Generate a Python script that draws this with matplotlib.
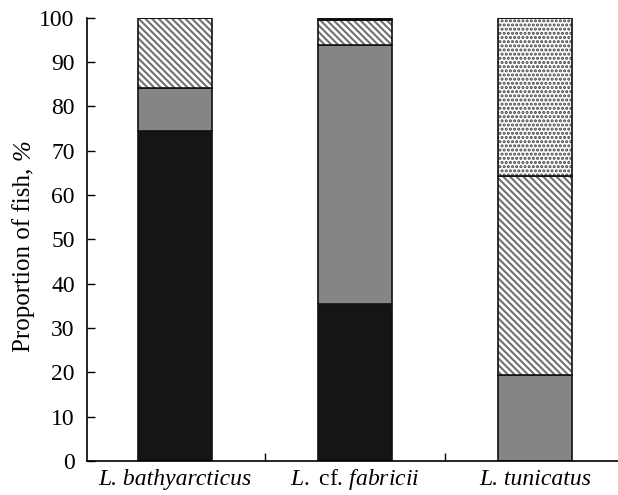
import matplotlib
matplotlib.use("Agg")
import matplotlib.pyplot as plt
import numpy as np

plt.rcParams['font.family'] = ['Liberation Serif', 'DejaVu Serif']
plt.rcParams['mathtext.fontset'] = 'custom'
plt.rcParams['mathtext.rm'] = 'Liberation Serif'
plt.rcParams['mathtext.it'] = 'Liberation Serif:italic'
plt.rcParams['hatch.linewidth'] = 1.5

# data (percent of fish)
species = ["L. bathyarcticus",
           r"$\mathit{L.}$ cf. $\mathit{fabricii}$",
           "L. tunicatus"]
black_part = [74.5, 35.3, 0.0]
gray_part = [9.7, 58.5, 19.4]
hatched_part = [15.8, 5.7, 44.8]
dotted_part = [0.0, 0.0, 35.8]
top_black = [0.0, 0.5, 0.0]

fig = plt.figure(figsize=(6.18, 4.95), dpi=100)
ax = fig.add_axes([0.141, 0.069, 0.859, 0.895])

x = np.arange(len(species))
w = 0.41
bottom = np.zeros(len(species))

layers = [
    (black_part, '#151515', None, '#151515'),
    (gray_part, '#858585', None, '#858585'),
    (hatched_part, 'white', '\\\\\\\\\\', '#707070'),
    (dotted_part, 'white', '....', '#444444'),
    (top_black, '#151515', None, '#151515'),
]
for vals, fc, hatch, hc in layers:
    vals = np.array(vals)
    ax.bar(x, vals, w, bottom=bottom, facecolor=fc,
           edgecolor=hc, hatch=hatch, linewidth=0)
    ax.bar(x, vals, w, bottom=bottom, facecolor='none',
           edgecolor='#111111', linewidth=1.2)
    bottom += vals

ax.set_xlim(-0.49, 2.46)
ax.set_ylim(0, 100)
ax.set_yticks(np.arange(0, 101, 10))
ax.set_xticks([0.5, 1.5])
ax.set_xticklabels([])
for xi, lab in zip(x, species):
    ax.text(xi, -5.4, lab, ha='center', va='baseline', fontsize=17,
            style='italic' if '$' not in lab else 'normal')

ax.tick_params(axis='y', direction='in', length=6, width=1, labelsize=17, pad=9)
ax.tick_params(axis='x', direction='in', length=6, width=1)
ax.spines['top'].set_visible(False)
ax.spines['right'].set_visible(False)
for s in ['left', 'bottom']:
    ax.spines[s].set_linewidth(1.2)

# y label: upright text plus italic percent sign
lab1 = fig.text(0.038, 0.289, "Proportion of fish,", rotation=90,
                ha='center', va='bottom', fontsize=18)
fig.canvas.draw()
bb = lab1.get_window_extent()
fig.text(0.038, (bb.y1 + 8) / fig.bbox.height, "%", rotation=90,
         ha='center', va='bottom', fontsize=18, style='italic')

fig.savefig("out.png", dpi=100)
